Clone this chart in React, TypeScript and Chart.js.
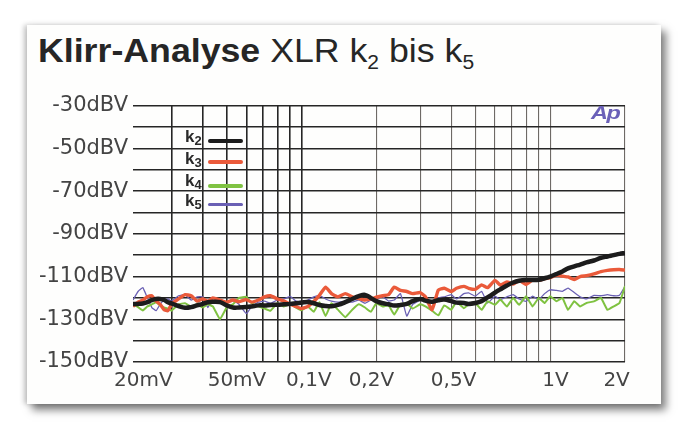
import React, { useEffect, useRef } from 'react';
import { Chart, registerables } from 'chart.js';

Chart.register(...registerables);

// Input level in volts (log x axis)
const voltages = [
  0.021, 0.022, 0.023, 0.024, 0.025, 0.026, 0.027, 0.028, 0.029, 0.030,
  0.032, 0.034, 0.036, 0.038, 0.040, 0.042, 0.044, 0.047, 0.050, 0.053,
  0.056, 0.060, 0.063, 0.067, 0.071, 0.075, 0.080, 0.085, 0.090, 0.095,
  0.10, 0.106, 0.112, 0.118, 0.125, 0.132, 0.14, 0.15, 0.16, 0.17,
  0.18, 0.19, 0.20, 0.212, 0.224, 0.236, 0.25, 0.265, 0.28, 0.30,
  0.315, 0.335, 0.355, 0.375, 0.40, 0.42, 0.45, 0.47, 0.50, 0.53,
  0.56, 0.60, 0.63, 0.67, 0.71, 0.75, 0.80, 0.85, 0.90, 0.95,
  1.0, 1.06, 1.12, 1.18, 1.25, 1.32, 1.4, 1.5, 1.6, 1.7,
  1.8, 1.9, 2.0,
];

// k2 (black)
const k2 = [
  -122.8, -122.8, -122.6, -122, -121, -120.5, -120.5, -121, -122, -122.6,
  -123.8, -124.6, -124.3, -123.5, -122.8, -122, -121.8, -122, -123.5, -124.5,
  -124.5, -124.3, -124, -123.5, -123.5, -123.3, -123.2, -123, -122.8, -122.5,
  -122.2, -121.9, -122.5, -123.3, -123.8, -123.9, -123.3, -122, -120.5, -119.2,
  -118.6, -120, -121.5, -122.5, -123, -123.6, -123.3, -122.8, -121.5, -120.5,
  -121.3, -121.8, -121.1, -120.8, -121.5, -122.2, -122.4, -122.8, -122.4, -121.5,
  -119.8, -117.5, -116, -114.2, -112.8, -112, -111.6, -111.6, -111.5, -110.8,
  -110, -108.8, -107.6, -106.2, -105.2, -104.4, -103.4, -102.5, -101.3, -100.6,
  -100, -99.4, -99,
];

// k3 (red)
const k3 = [
  -124, -122, -121, -119.5, -119, -121.5, -123, -125.5, -126, -123,
  -120.5, -118.5, -119, -121.5, -120.5, -121.5, -120, -121, -122, -121,
  -121.8, -120.8, -122, -121, -119.5, -119, -120.5, -121.5, -123, -124,
  -125, -124, -121.7, -118.8, -115, -118, -119.5, -118, -119.5, -120.3,
  -121, -120.5, -119.7, -119, -118.5, -115, -116.5, -117, -118, -117.5,
  -119.5, -125.5, -116.3, -115.5, -117, -115.5, -114.6, -115.5, -116, -113.9,
  -115.2, -111.8, -114, -112.5, -113.5, -111.8, -113.7, -111.6, -111.8, -111,
  -110.5, -109.3, -109.8, -110.2, -111.4, -110, -109.6, -108.8, -107.7, -107.1,
  -106.8, -106.7, -107,
];

// k4 (green)
const k4 = [
  -123, -124.3, -125.9, -124, -123, -122, -123.5, -124.5, -125, -126,
  -123, -122.5, -124, -123, -124.5, -123, -124, -130, -124.5, -123,
  -120, -119.5, -122.5, -124, -125, -126, -122.5, -124, -123, -124.5,
  -125.8, -124, -126.5, -122, -128.5, -122.5, -125.5, -129, -125.5, -123,
  -124.5, -126.5, -122.5, -124, -123.5, -127.8, -123, -122.5, -125, -123,
  -124, -126, -128.2, -123.5, -125.5, -121.9, -124.8, -123, -122.4, -125.6,
  -121.6, -123.2, -120.8, -124, -120, -123.2, -119.2, -124, -120, -122.4,
  -119.2, -121.6, -120, -125.6, -121.6, -124, -122.4, -121.6, -120, -125.6,
  -124, -122.4, -114.5,
];

// k5 (violet)
const k5 = [
  -121, -117, -115.2, -120, -124.5, -126, -123, -121, -120.5, -121.5,
  -119, -118.5, -121, -119.5, -119.5, -124.5, -120, -121.5, -122, -121,
  -123, -127.4, -124, -122, -121.5, -122.5, -121, -120.5, -119.3, -121.5,
  -122, -121, -119.5, -118.8, -120.5, -121.5, -122, -121.5, -122, -121,
  -122.5, -121, -120.5, -119.5, -121.5, -121, -118, -128.5, -123, -121,
  -120.5, -121.5, -120, -119.5, -118.5, -120.5, -118, -117.7, -119.2, -116.9,
  -122.4, -119.2, -120.8, -119.5, -118.5, -120.5, -121.6, -119.2, -120.8, -118,
  -116.2, -116.5, -116.9, -115.4, -117.5, -119.5, -120.5, -118.8, -119, -118.5,
  -119, -118.8, -114.6,
];

const seriesSubs = ['2', '3', '4', '5'];
const seriesColors = ['#1c1c1c', '#ea5a3a', '#7fc241', '#6a60b4'];

// grid lines (1-2-3...9 per decade)
const xGridValues = [
  0.03, 0.04, 0.05, 0.06, 0.07, 0.08, 0.09, 0.1,
  0.2, 0.3, 0.4, 0.5, 0.6, 0.7, 0.8, 0.9, 1, 2,
];
// printed x labels and where the magazine put them
const xTickLabels = ['20mV', '50mV', '0,1V', '0,2V', '0,5V', '1V', '2V'];
const xTickPlaces = [0.0231, 0.055, 0.107, 0.191, 0.409, 1.05, 1.85];

const yLabelValues = [-30, -50, -70, -90, -110, -130, -150];

export default function App() {
  const ref = useRef<HTMLCanvasElement | null>(null);

  useEffect(() => {
    if (!ref.current) return;
    const all = [k2, k3, k4, k5];
    const widths = [4.5, 3.4, 2, 1.3];
    const tens = [0.4, 0.15, 0.1, 0.1];
    const chart = new Chart(ref.current, {
      type: 'line',
      data: {
        datasets: all.map((s, i) => ({
          label: 'k' + seriesSubs[i],
          data: voltages.map((v, j) => ({ x: v, y: s[j] })),
          borderColor: seriesColors[i],
          backgroundColor: seriesColors[i],
          borderWidth: widths[i],
          pointRadius: 0,
          tension: tens[i],
          fill: false,
          xAxisID: 'x',
          yAxisID: 'y',
        })),
      },
      options: {
        animation: false,
        responsive: false,
        devicePixelRatio: 1,
        layout: { padding: { left: 0, right: 25, top: 16, bottom: 0 } },
        plugins: {
          legend: { display: false },
          tooltip: { enabled: false },
          title: { display: false },
        },
        scales: {
          x: {
            type: 'logarithmic',
            position: 'bottom',
            min: 0.021,
            max: 2,
            bounds: 'data',
            border: { display: false },
            grid: {
              drawTicks: false,
              color: (ctx: any) => (ctx.tick && ctx.tick.value <= 0.1 ? '#262626' : '#6e6a66'),
              lineWidth: (ctx: any) => (ctx.tick && ctx.tick.value <= 0.1 ? 1.6 : 1.1),
            },
            ticks: { display: false },
            afterBuildTicks: (axis: any) => {
              axis.ticks = xGridValues.map((v) => ({ value: v }));
            },
            afterFit: (axis: any) => {
              axis.height = 0;
            },
          },
          x2: {
            type: 'logarithmic',
            position: 'bottom',
            min: 0.021,
            max: 2,
            bounds: 'data',
            border: { display: false },
            grid: { display: false, drawTicks: false },
            ticks: {
              autoSkip: false,
              maxRotation: 0,
              padding: 7,
              color: '#444444',
              font: { family: 'DejaVu Sans', size: 20 },
              callback: (_v: any, i: number) => xTickLabels[i],
            },
            afterBuildTicks: (axis: any) => {
              axis.ticks = xTickPlaces.map((v) => ({ value: v }));
            },
            afterFit: (axis: any) => {
              axis.height = 42;
            },
          },
          y: {
            type: 'linear',
            min: -150,
            max: -30,
            border: { display: false },
            grid: { drawTicks: false, color: '#262626', lineWidth: 1.5 },
            ticks: {
              stepSize: 10,
              padding: 5,
              autoSkip: false,
              color: '#444444',
              font: { family: 'DejaVu Sans', size: 21 },
              callback: (v: any) => (yLabelValues.includes(Number(v)) ? `${v}dBV` : ''),
            },
            afterFit: (axis: any) => {
              axis.width = 103;
            },
          },
        },
      },
    });
    return () => chart.destroy();
  }, []);

  const legendTops = [128, 149.5, 171.5, 191.5];
  const legendLineTops = [139, 160, 183.5, 202.5];
  const legendLineH = [4, 4, 4, 3];

  return (
    <div
      style={{
        position: 'fixed',
        left: 0,
        top: 0,
        width: 688,
        height: 428,
        background: '#ffffff',
        overflow: 'hidden',
      }}
    >
      <div
        style={{
          position: 'absolute',
          left: 27,
          top: 25,
          width: 634,
          height: 379,
          background: '#fefefd',
          boxShadow: '5px 6px 8px rgba(0,0,0,0.5), -3px 0px 5px rgba(0,0,0,0.22)',
        }}
      />
      <div
        style={{
          position: 'absolute',
          left: 38,
          top: 33,
          fontFamily: '"Liberation Sans", Arial, sans-serif',
          fontSize: 34,
          lineHeight: '34px',
          color: '#262626',
          whiteSpace: 'nowrap',
          transform: 'scaleX(1.05)',
          transformOrigin: 'left top',
        }}
      >
        <span style={{ fontWeight: 'bold' }}>Klirr-Analyse</span>
        <span> XLR k</span>
        <span style={{ fontSize: 20, position: 'relative', top: 7 }}>2</span>
        <span> bis k</span>
        <span style={{ fontSize: 20, position: 'relative', top: 7 }}>5</span>
      </div>
      <canvas
        ref={ref}
        width={620}
        height={316}
        style={{ position: 'absolute', left: 30, top: 88, width: 620, height: 316 }}
      />
      {seriesSubs.map((s, i) => (
        <React.Fragment key={s}>
          <div
            style={{
              position: 'absolute',
              left: 185,
              top: legendTops[i],
              fontFamily: '"Liberation Sans Narrow", "Liberation Sans", sans-serif',
              fontWeight: 'bold',
              fontSize: 17,
              lineHeight: '17px',
              color: '#2a2a2a',
              whiteSpace: 'nowrap',
            }}
          >
            k<span style={{ fontSize: 13, position: 'relative', top: 3 }}>{s}</span>
          </div>
          <div
            style={{
              position: 'absolute',
              left: 208,
              top: legendLineTops[i],
              width: 35,
              height: legendLineH[i],
              borderRadius: 2,
              background: seriesColors[i],
            }}
          />
        </React.Fragment>
      ))}
      <div
        style={{
          position: 'absolute',
          left: 591,
          top: 104,
          fontFamily: '"Liberation Sans", Arial, sans-serif',
          fontStyle: 'italic',
          fontWeight: 'bold',
          fontSize: 18,
          lineHeight: '18px',
          color: '#6a60b8',
          transform: 'scaleX(1.3)',
          transformOrigin: 'left top',
          letterSpacing: -1,
        }}
      >
        Ap
      </div>
    </div>
  );
}
